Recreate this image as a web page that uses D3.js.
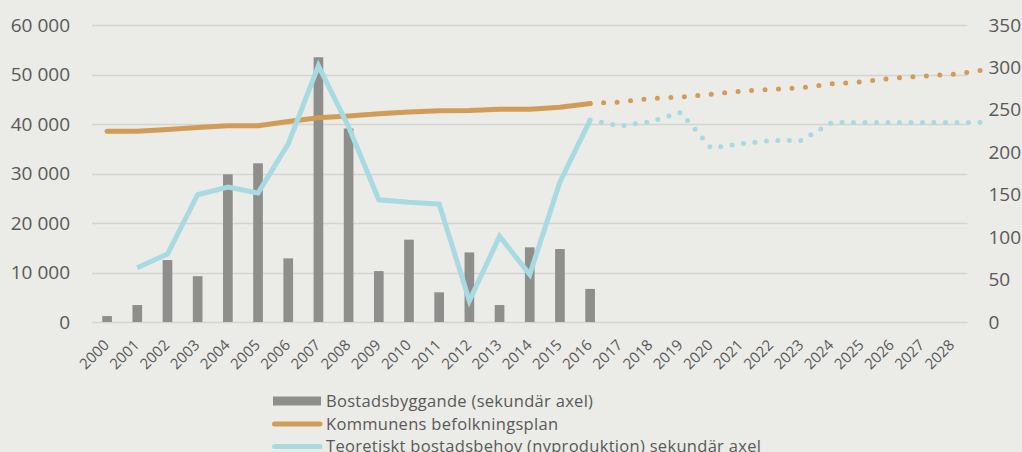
<!DOCTYPE html>
<html>
<head>
<meta charset="utf-8">
<script src="https://cdn.jsdelivr.net/npm/d3@7"></script>
<style>
  html, body { margin: 0; padding: 0; background: #ebebe7; }
  svg { display: block; font-family: "Open Sans", sans-serif; }
</style>
</head>
<body>
<svg width="1022" height="452"></svg>
<script>
// data
const years = ["2000","2001","2002","2003","2004","2005","2006","2007","2008","2009",
  "2010","2011","2012","2013","2014","2015","2016","2017","2018","2019",
  "2020","2021","2022","2023","2024","2025","2026","2027","2028"];

// bars, secondary axis
const byggYears = ["2000","2001","2002","2003","2004","2005","2006","2007","2008",
  "2009","2010","2011","2012","2013","2014","2015","2016"];
const bostadsbyggande = [7, 20, 73, 54, 174, 187, 75, 312, 228, 60, 97, 35, 82, 20, 88, 86, 39];

// population, primary axis
const befolkning = [38550, 38550, 38900, 39300, 39650, 39650, 40500, 41250, 41600,
  42050, 42400, 42700, 42750, 43000, 43000, 43400, 44150];

// theoretical need, secondary axis
const behovYears = ["2001","2002","2003","2004","2005","2006","2007","2008","2009",
  "2010","2011","2012","2013","2014","2015","2016"];
const behov = [64, 80, 150, 159, 152, 210, 302, 230, 144, 141, 139, 25, 101, 56, 165, 238];

// forecasts (dotted), run one step past the last label
const prognosYears = [2016, 2017, 2018, 2019, 2020, 2021, 2022, 2023, 2024, 2025, 2026, 2027, 2028, 2029];
const befolkningPrognos = [44150, 44450, 45150, 45450, 46000, 46650, 47000, 47350, 48100, 48500, 49250, 49650, 50050, 50850];
const behovPrognos = [238, 231, 236, 247, 205, 210, 214, 214, 235, 235, 235, 235, 235, 235];

const leftTicks = [0, 10000, 20000, 30000, 40000, 50000, 60000];
const rightTicks = [0, 50, 100, 150, 200, 250, 300, 350];

const legendItems = [
  { name: "Bostadsbyggande (sekundär axel)", type: "bar" },
  { name: "Kommunens befolkningsplan", type: "orange" },
  { name: "Teoretiskt bostadsbehov (nyproduktion) sekundär axel", type: "blue" }
];

// colours
const barColor = "#8e8e8c";
const orange = "#d29c58";
const blue = "#a8dae2";
const gridColor = "#d4d4d0";
const textColor = "#595959";

const svg = d3.select("svg");
const margin = { left: 92, right: 967.5, top: 25, bottom: 322 };

const x = d3.scaleBand()
  .domain(years)
  .range([margin.left, margin.right])
  .paddingInner(0.68)
  .paddingOuter(0.34);

const xYear = d3.scaleLinear()
  .domain([+years[0], +years[years.length - 1]])
  .range([x(years[0]) + x.bandwidth() / 2, x(years[years.length - 1]) + x.bandwidth() / 2]);

const yLeft = d3.scaleLinear().domain([0, 60000]).range([margin.bottom, margin.top]);
const yRight = d3.scaleLinear().domain([0, 350]).range([margin.bottom, margin.top]);

const locale = d3.formatLocale({ decimal: ",", thousands: " ", grouping: [3], currency: ["", " kr"] });
const fmt = locale.format(",d");

// gridlines
svg.append("g")
  .selectAll("line")
  .data(leftTicks)
  .join("line")
    .attr("x1", margin.left)
    .attr("x2", margin.right)
    .attr("y1", (d) => Math.round(yLeft(d)) + 0.5)
    .attr("y2", (d) => Math.round(yLeft(d)) + 0.5)
    .attr("stroke", gridColor)
    .attr("stroke-width", 1.5);

// left axis
const leftAxis = svg.append("g")
  .attr("transform", `translate(${margin.left - 22},0)`)
  .call(d3.axisLeft(yLeft).tickValues(leftTicks).tickFormat(fmt).tickSize(0).tickPadding(0));
leftAxis.select(".domain").remove();
leftAxis.selectAll("text")
  .attr("fill", textColor)
  .style("font-size", "19px")
  .style("font-family", "'Open Sans', sans-serif");

// right axis
const rightAxis = svg.append("g")
  .attr("transform", `translate(${margin.right + 21},0)`)
  .call(d3.axisRight(yRight).tickValues(rightTicks).tickSize(0).tickPadding(0));
rightAxis.select(".domain").remove();
rightAxis.selectAll("text")
  .attr("fill", textColor)
  .style("font-size", "19px")
  .style("font-family", "'Open Sans', sans-serif");

// bottom axis labels
const bottomAxis = svg.append("g")
  .attr("transform", `translate(0,${margin.bottom})`)
  .call(d3.axisBottom(x).tickSize(0).tickPadding(0));
bottomAxis.select(".domain").remove();
bottomAxis.selectAll("text")
  .attr("fill", textColor)
  .style("font-size", "15px")
  .style("font-family", "'Open Sans', sans-serif")
  .attr("text-anchor", "end")
  .attr("dy", 0)
  .attr("transform", "translate(3,24) rotate(-45)");

// bars
svg.append("g")
  .selectAll("rect")
  .data(bostadsbyggande)
  .join("rect")
    .attr("x", (d, i) => x(byggYears[i]))
    .attr("width", x.bandwidth())
    .attr("y", (d) => yRight(d))
    .attr("height", (d) => yRight(0) - yRight(d))
    .attr("fill", barColor);

// orange line
const lineLeft = d3.line()
  .x((d, i) => x(byggYears[i]) + x.bandwidth() / 2)
  .y((d) => yLeft(d));

svg.append("path")
  .datum(befolkning)
  .attr("d", lineLeft)
  .attr("fill", "none")
  .attr("stroke", orange)
  .attr("stroke-width", 5)
  .attr("stroke-linecap", "round")
  .attr("stroke-linejoin", "round");

// blue line
const lineBehov = d3.line()
  .x((d, i) => x(behovYears[i]) + x.bandwidth() / 2)
  .y((d) => yRight(d));

svg.append("path")
  .datum(behov)
  .attr("d", lineBehov)
  .attr("fill", "none")
  .attr("stroke", blue)
  .attr("stroke-width", 5)
  .attr("stroke-linejoin", "miter");

// dotted forecasts
const dotLeft = d3.line()
  .x((d, i) => xYear(prognosYears[i]))
  .y((d) => yLeft(d));
const dotRight = d3.line()
  .x((d, i) => xYear(prognosYears[i]))
  .y((d) => yRight(d));

svg.append("path")
  .datum(befolkningPrognos)
  .attr("d", dotLeft)
  .attr("fill", "none")
  .attr("stroke", orange)
  .attr("stroke-width", 5)
  .attr("stroke-linecap", "round")
  .attr("stroke-dasharray", "0 13.5");

svg.append("path")
  .datum(behovPrognos)
  .attr("d", dotRight)
  .attr("fill", "none")
  .attr("stroke", blue)
  .attr("stroke-width", 5)
  .attr("stroke-linecap", "round")
  .attr("stroke-dasharray", "0 11.5");

// legend
const legend = svg.append("g")
  .attr("transform", "translate(273,401)");

const item = legend.selectAll("g")
  .data(legendItems)
  .join("g")
    .attr("transform", (d, i) => `translate(0,${i * 22.5})`);

item.filter((d) => d.type === "bar")
  .append("rect")
    .attr("x", 0)
    .attr("y", -4.5)
    .attr("width", 48)
    .attr("height", 9)
    .attr("fill", barColor);

item.filter((d) => d.type !== "bar")
  .append("line")
    .attr("x1", 1.5)
    .attr("x2", 47)
    .attr("y1", 0.5)
    .attr("y2", 0.5)
    .attr("stroke", (d) => d.type === "orange" ? orange : blue)
    .attr("stroke-width", 5)
    .attr("stroke-linecap", "round");

item.append("text")
  .attr("x", 53)
  .attr("y", 6)
  .attr("fill", textColor)
  .style("font-size", "16.5px")
  .style("letter-spacing", "0.3px")
  .text((d) => d.name);
</script>
</body>
</html>
